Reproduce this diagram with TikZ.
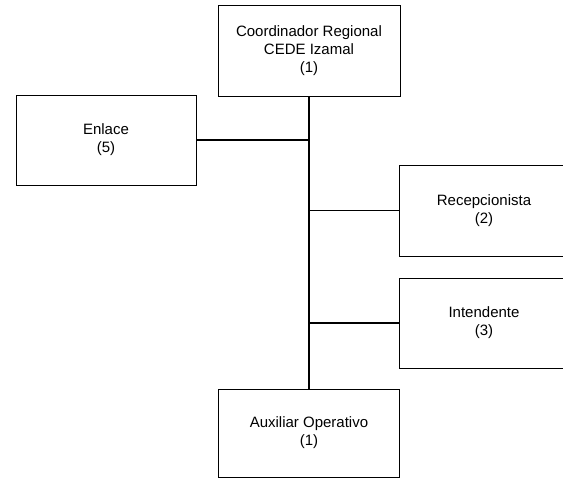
\documentclass[tikz,border=0pt]{standalone}
\usepackage{fontspec}
\setmainfont{Liberation Sans}
\usepackage{tikz}
\usetikzlibrary{positioning}
\tikzstyle{puesto} = [
    rectangle, minimum width=182pt, minimum height=91pt,
    inner sep=0pt, text centered, align=center, draw=black, line width=0.8pt
]
\tikzstyle{linea} = [line width=1.6pt, draw=black]

\begin{document}
\begin{tikzpicture}[
    x=1pt, y=1pt,
    font=\fontsize{15}{18}\selectfont
]
\useasboundingbox (0,0) rectangle (563,-478);
\clip (0,0) rectangle (563,-478);

% Puestos
\node (coord)  [puesto] at (309,-50.5)                    {Coordinador Regional \\ CEDE Izamal \\ (1)};
\node (enlace) [puesto, minimum width=180pt, minimum height=90pt] at (106,-140) {Enlace \\ (5)};
\node (recep)  [puesto, minimum width=170pt] at (484,-210.5) {Recepcionista \\ (2)};
\node (intend) [puesto, minimum width=170pt, minimum height=90pt] at (484,-323) {Intendente \\ (3)};
\node (aux)    [puesto, minimum width=181pt, minimum height=88pt] at (309,-433) {Auxiliar Operativo \\ (1)};

% Lineas
\draw [linea] (coord.south) -- (aux.north);
\draw [linea] (enlace.east) -- (enlace.east -| coord.south);
\draw [linea] (recep.west) -- (recep.west -| coord.south);
\draw [linea] (intend.west) -- (intend.west -| coord.south);

\end{tikzpicture}
\end{document}
